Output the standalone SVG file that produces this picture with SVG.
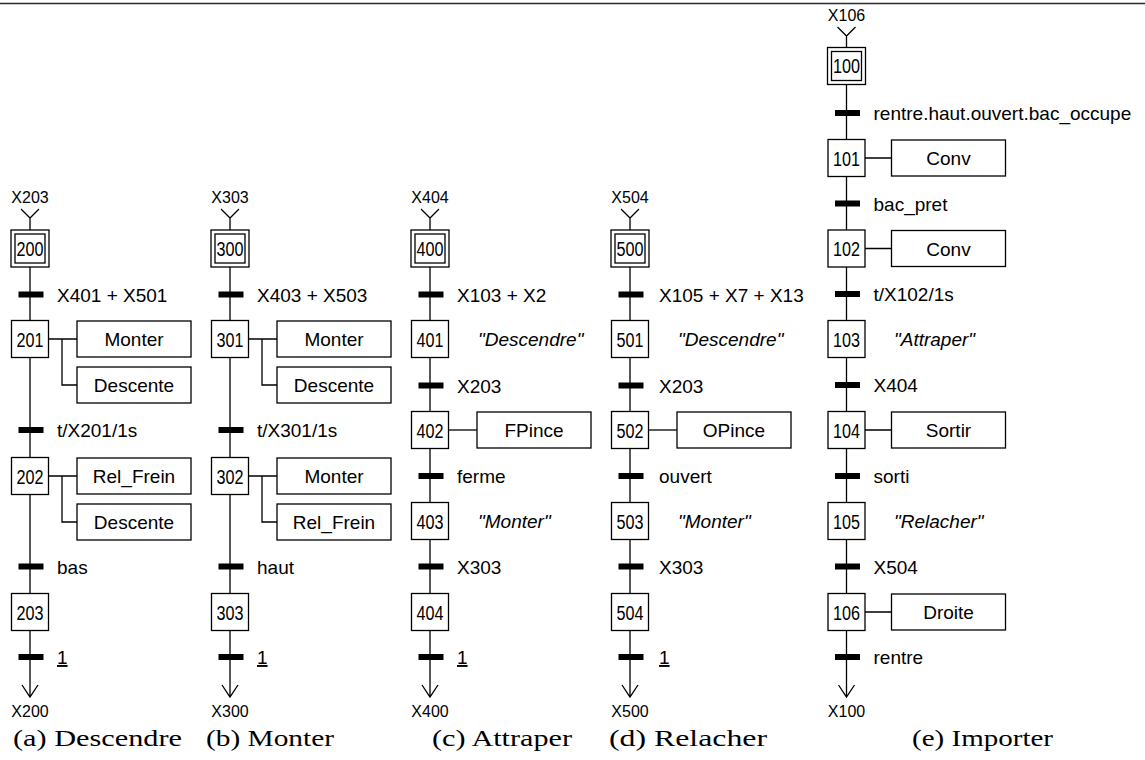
<svg xmlns="http://www.w3.org/2000/svg" width="1145" height="760" viewBox="0 0 1145 760">
<style>
.ln{fill:none;stroke:#000;stroke-width:1.3}
.bx{fill:#fff;stroke:#000;stroke-width:1.3}
.bar{fill:#000}
.t{font-family:"Liberation Sans",Arial,sans-serif;font-size:19px;fill:#000}
.n{font-family:"Liberation Sans",Arial,sans-serif;font-size:20px;fill:#000;text-anchor:middle}
.a{font-family:"Liberation Sans",Arial,sans-serif;font-size:19px;fill:#000;text-anchor:middle}
.i{font-family:"Liberation Sans",Arial,sans-serif;font-size:19px;font-style:italic;fill:#000}
.x{font-family:"Liberation Sans",Arial,sans-serif;font-size:16px;fill:#000;text-anchor:middle}
.cap{font-family:"Liberation Serif","Times New Roman",serif;font-size:24px;fill:#000}
</style>
<line x1="0" y1="3.5" x2="1145" y2="3.5" stroke="#2b2b2b" stroke-width="1.6"/>
<g id="connectors">
  <path class="ln" d="M21,209 L30,218 L39,209 M30,218 V697 M22,685 L30,697 L38,685"/>
  <path class="ln" d="M48.5,339 H77 M62,339 V385 H77 M48.5,476 H77 M62,476 V522 H77"/>
  <path class="ln" d="M221,209 L230,218 L239,209 M230,218 V697 M222,685 L230,697 L238,685"/>
  <path class="ln" d="M248.5,339 H277 M262,339 V385 H277 M248.5,476 H277 M262,476 V522 H277"/>
  <path class="ln" d="M421,209 L430,218 L439,209 M430,218 V697 M422,685 L430,697 L438,685"/>
  <path class="ln" d="M448.5,430 H477"/>
  <path class="ln" d="M621,209 L630,218 L639,209 M630,218 V697 M622,685 L630,697 L638,685"/>
  <path class="ln" d="M648.5,430 H677"/>
  <path class="ln" d="M837.5,27 L846.5,36 L855.5,27 M846.5,36 V697 M838.5,685 L846.5,697 L854.5,685"/>
  <path class="ln" d="M865,158 H891.5 M865,248.5 H891.5 M865,430 H891.5 M865,612 H891.5"/>
</g>

<!-- ========== (a) Descendre ========== -->
<g id="a-in"><text class="x" x="30" y="203">X203</text></g>
<g id="s200"><rect class="bx" x="11" y="230" width="38" height="37"/><rect class="bx" x="15" y="234" width="30" height="29"/><text class="n" x="30" y="255.5" textLength="27" lengthAdjust="spacingAndGlyphs">200</text></g>
<g id="t200"><rect class="bar" x="18.5" y="291.5" width="25" height="6"/><text class="t" x="57" y="301.5">X401 + X501</text></g>
<g id="s201"><rect class="bx" x="11.5" y="320.5" width="37" height="37"/><text class="n" x="30" y="346.5" textLength="27" lengthAdjust="spacingAndGlyphs">201</text>
  <rect class="bx" x="77" y="321" width="114" height="36"/><text class="a" x="134" y="346">Monter</text>
  <rect class="bx" x="77" y="367" width="114" height="36"/><text class="a" x="134" y="392">Descente</text></g>
<g id="t201"><rect class="bar" x="18.5" y="427" width="25" height="6"/><text class="t" x="57" y="437">t/X201/1s</text></g>
<g id="s202"><rect class="bx" x="11.5" y="457.5" width="37" height="37"/><text class="n" x="30" y="483.5" textLength="27" lengthAdjust="spacingAndGlyphs">202</text>
  <rect class="bx" x="77" y="458" width="114" height="36"/><text class="a" x="134" y="483">Rel_Frein</text>
  <rect class="bx" x="77" y="504" width="114" height="36"/><text class="a" x="134" y="529">Descente</text></g>
<g id="t202"><rect class="bar" x="18.5" y="563.5" width="25" height="6"/><text class="t" x="57" y="573.5">bas</text></g>
<g id="s203"><rect class="bx" x="11.5" y="593.5" width="37" height="37"/><text class="n" x="30" y="619.5" textLength="27" lengthAdjust="spacingAndGlyphs">203</text></g>
<g id="t203"><rect class="bar" x="18.5" y="654" width="25" height="6"/><text class="t" x="57" y="664" text-decoration="underline">1</text></g>
<g id="a-out"><text class="x" x="30" y="716.5">X200</text></g>
<text class="cap" x="13" y="746" textLength="169" lengthAdjust="spacingAndGlyphs">(a) Descendre</text>

<!-- ========== (b) Monter ========== -->
<g id="b-in"><text class="x" x="230" y="203">X303</text></g>
<g id="s300"><rect class="bx" x="211" y="230" width="38" height="37"/><rect class="bx" x="215" y="234" width="30" height="29"/><text class="n" x="230" y="255.5" textLength="27" lengthAdjust="spacingAndGlyphs">300</text></g>
<g id="t300"><rect class="bar" x="218.5" y="291.5" width="25" height="6"/><text class="t" x="257" y="301.5">X403 + X503</text></g>
<g id="s301"><rect class="bx" x="211.5" y="320.5" width="37" height="37"/><text class="n" x="230" y="346.5" textLength="27" lengthAdjust="spacingAndGlyphs">301</text>
  <rect class="bx" x="277" y="321" width="114" height="36"/><text class="a" x="334" y="346">Monter</text>
  <rect class="bx" x="277" y="367" width="114" height="36"/><text class="a" x="334" y="392">Descente</text></g>
<g id="t301"><rect class="bar" x="218.5" y="427" width="25" height="6"/><text class="t" x="257" y="437">t/X301/1s</text></g>
<g id="s302"><rect class="bx" x="211.5" y="457.5" width="37" height="37"/><text class="n" x="230" y="483.5" textLength="27" lengthAdjust="spacingAndGlyphs">302</text>
  <rect class="bx" x="277" y="458" width="114" height="36"/><text class="a" x="334" y="483">Monter</text>
  <rect class="bx" x="277" y="504" width="114" height="36"/><text class="a" x="334" y="529">Rel_Frein</text></g>
<g id="t302"><rect class="bar" x="218.5" y="563.5" width="25" height="6"/><text class="t" x="257" y="573.5">haut</text></g>
<g id="s303"><rect class="bx" x="211.5" y="593.5" width="37" height="37"/><text class="n" x="230" y="619.5" textLength="27" lengthAdjust="spacingAndGlyphs">303</text></g>
<g id="t303"><rect class="bar" x="218.5" y="654" width="25" height="6"/><text class="t" x="257" y="664" text-decoration="underline">1</text></g>
<g id="b-out"><text class="x" x="230" y="716.5">X300</text></g>
<text class="cap" x="206" y="746" textLength="128" lengthAdjust="spacingAndGlyphs">(b) Monter</text>

<!-- ========== (c) Attraper ========== -->
<g id="c-in"><text class="x" x="430" y="203">X404</text></g>
<g id="s400"><rect class="bx" x="411" y="230" width="38" height="37"/><rect class="bx" x="415" y="234" width="30" height="29"/><text class="n" x="430" y="255.5" textLength="27" lengthAdjust="spacingAndGlyphs">400</text></g>
<g id="t400"><rect class="bar" x="418.5" y="291.5" width="25" height="6"/><text class="t" x="457" y="301.5">X103 + X2</text></g>
<g id="s401"><rect class="bx" x="411.5" y="320.5" width="37" height="37"/><text class="n" x="430" y="346.5" textLength="27" lengthAdjust="spacingAndGlyphs">401</text><text class="i" x="478" y="346">"Descendre"</text></g>
<g id="t401"><rect class="bar" x="418.5" y="382.5" width="25" height="6"/><text class="t" x="457" y="392.5">X203</text></g>
<g id="s402"><rect class="bx" x="411.5" y="411.5" width="37" height="37"/><text class="n" x="430" y="437.5" textLength="27" lengthAdjust="spacingAndGlyphs">402</text>
  <rect class="bx" x="477" y="412" width="114" height="36"/><text class="a" x="534" y="437">FPince</text></g>
<g id="t402"><rect class="bar" x="418.5" y="473" width="25" height="6"/><text class="t" x="457" y="483">ferme</text></g>
<g id="s403"><rect class="bx" x="411.5" y="502.5" width="37" height="37"/><text class="n" x="430" y="528.5" textLength="27" lengthAdjust="spacingAndGlyphs">403</text><text class="i" x="478" y="528">"Monter"</text></g>
<g id="t403"><rect class="bar" x="418.5" y="563.5" width="25" height="6"/><text class="t" x="457" y="573.5">X303</text></g>
<g id="s404"><rect class="bx" x="411.5" y="593.5" width="37" height="37"/><text class="n" x="430" y="619.5" textLength="27" lengthAdjust="spacingAndGlyphs">404</text></g>
<g id="t404"><rect class="bar" x="418.5" y="654" width="25" height="6"/><text class="t" x="457" y="664" text-decoration="underline">1</text></g>
<g id="c-out"><text class="x" x="430" y="716.5">X400</text></g>
<text class="cap" x="432" y="746" textLength="140" lengthAdjust="spacingAndGlyphs">(c) Attraper</text>

<!-- ========== (d) Relacher ========== -->
<g id="d-in"><text class="x" x="630" y="203">X504</text></g>
<g id="s500"><rect class="bx" x="611" y="230" width="38" height="37"/><rect class="bx" x="615" y="234" width="30" height="29"/><text class="n" x="630" y="255.5" textLength="27" lengthAdjust="spacingAndGlyphs">500</text></g>
<g id="t500"><rect class="bar" x="618.5" y="291.5" width="25" height="6"/><text class="t" x="659" y="301.5">X105 + X7 + X13</text></g>
<g id="s501"><rect class="bx" x="611.5" y="320.5" width="37" height="37"/><text class="n" x="630" y="346.5" textLength="27" lengthAdjust="spacingAndGlyphs">501</text><text class="i" x="678" y="346">"Descendre"</text></g>
<g id="t501"><rect class="bar" x="618.5" y="382.5" width="25" height="6"/><text class="t" x="659" y="392.5">X203</text></g>
<g id="s502"><rect class="bx" x="611.5" y="411.5" width="37" height="37"/><text class="n" x="630" y="437.5" textLength="27" lengthAdjust="spacingAndGlyphs">502</text>
  <rect class="bx" x="677" y="412" width="114" height="36"/><text class="a" x="734" y="437">OPince</text></g>
<g id="t502"><rect class="bar" x="618.5" y="473" width="25" height="6"/><text class="t" x="659" y="483">ouvert</text></g>
<g id="s503"><rect class="bx" x="611.5" y="502.5" width="37" height="37"/><text class="n" x="630" y="528.5" textLength="27" lengthAdjust="spacingAndGlyphs">503</text><text class="i" x="678" y="528">"Monter"</text></g>
<g id="t503"><rect class="bar" x="618.5" y="563.5" width="25" height="6"/><text class="t" x="659" y="573.5">X303</text></g>
<g id="s504"><rect class="bx" x="611.5" y="593.5" width="37" height="37"/><text class="n" x="630" y="619.5" textLength="27" lengthAdjust="spacingAndGlyphs">504</text></g>
<g id="t504"><rect class="bar" x="618.5" y="654" width="25" height="6"/><text class="t" x="659" y="664" text-decoration="underline">1</text></g>
<g id="d-out"><text class="x" x="630" y="716.5">X500</text></g>
<text class="cap" x="609" y="746" textLength="158" lengthAdjust="spacingAndGlyphs">(d) Relacher</text>

<!-- ========== (e) Importer ========== -->
<g id="e-in"><text class="x" x="846.5" y="20.5">X106</text></g>
<g id="s100"><rect class="bx" x="827.5" y="47.5" width="38" height="37"/><rect class="bx" x="831.5" y="51.5" width="30" height="29"/><text class="n" x="846.5" y="73" textLength="27" lengthAdjust="spacingAndGlyphs">100</text></g>
<g id="t100"><rect class="bar" x="835" y="110" width="25" height="6"/><text class="t" x="873.5" y="120">rentre.haut.ouvert.bac_occupe</text></g>
<g id="s101"><rect class="bx" x="828" y="139.5" width="37" height="37"/><text class="n" x="846.5" y="165.5" textLength="27" lengthAdjust="spacingAndGlyphs">101</text>
  <rect class="bx" x="891.5" y="140" width="114" height="36"/><text class="a" x="948.5" y="165">Conv</text></g>
<g id="t101"><rect class="bar" x="835" y="200.5" width="25" height="6"/><text class="t" x="873.5" y="210.5">bac_pret</text></g>
<g id="s102"><rect class="bx" x="828" y="230" width="37" height="37"/><text class="n" x="846.5" y="256" textLength="27" lengthAdjust="spacingAndGlyphs">102</text>
  <rect class="bx" x="891.5" y="230.5" width="114" height="36"/><text class="a" x="948.5" y="255.5">Conv</text></g>
<g id="t102"><rect class="bar" x="835" y="291" width="25" height="6"/><text class="t" x="873.5" y="301">t/X102/1s</text></g>
<g id="s103"><rect class="bx" x="828" y="320.5" width="37" height="37"/><text class="n" x="846.5" y="346.5" textLength="27" lengthAdjust="spacingAndGlyphs">103</text><text class="i" x="894" y="346">"Attraper"</text></g>
<g id="t103"><rect class="bar" x="835" y="382" width="25" height="6"/><text class="t" x="873.5" y="392">X404</text></g>
<g id="s104"><rect class="bx" x="828" y="411.5" width="37" height="37"/><text class="n" x="846.5" y="437.5" textLength="27" lengthAdjust="spacingAndGlyphs">104</text>
  <rect class="bx" x="891.5" y="412" width="114" height="36"/><text class="a" x="948.5" y="437">Sortir</text></g>
<g id="t104"><rect class="bar" x="835" y="473" width="25" height="6"/><text class="t" x="873.5" y="483">sorti</text></g>
<g id="s105"><rect class="bx" x="828" y="502.5" width="37" height="37"/><text class="n" x="846.5" y="528.5" textLength="27" lengthAdjust="spacingAndGlyphs">105</text><text class="i" x="894" y="528">"Relacher"</text></g>
<g id="t105"><rect class="bar" x="835" y="563.5" width="25" height="6"/><text class="t" x="873.5" y="573.5">X504</text></g>
<g id="s106"><rect class="bx" x="828" y="593.5" width="37" height="37"/><text class="n" x="846.5" y="619.5" textLength="27" lengthAdjust="spacingAndGlyphs">106</text>
  <rect class="bx" x="891.5" y="594" width="114" height="36"/><text class="a" x="948.5" y="619">Droite</text></g>
<g id="t106"><rect class="bar" x="835" y="654" width="25" height="6"/><text class="t" x="873.5" y="664">rentre</text></g>
<g id="e-out"><text class="x" x="846.5" y="716.5">X100</text></g>
<text class="cap" x="912" y="746" textLength="141" lengthAdjust="spacingAndGlyphs">(e) Importer</text>
</svg>
